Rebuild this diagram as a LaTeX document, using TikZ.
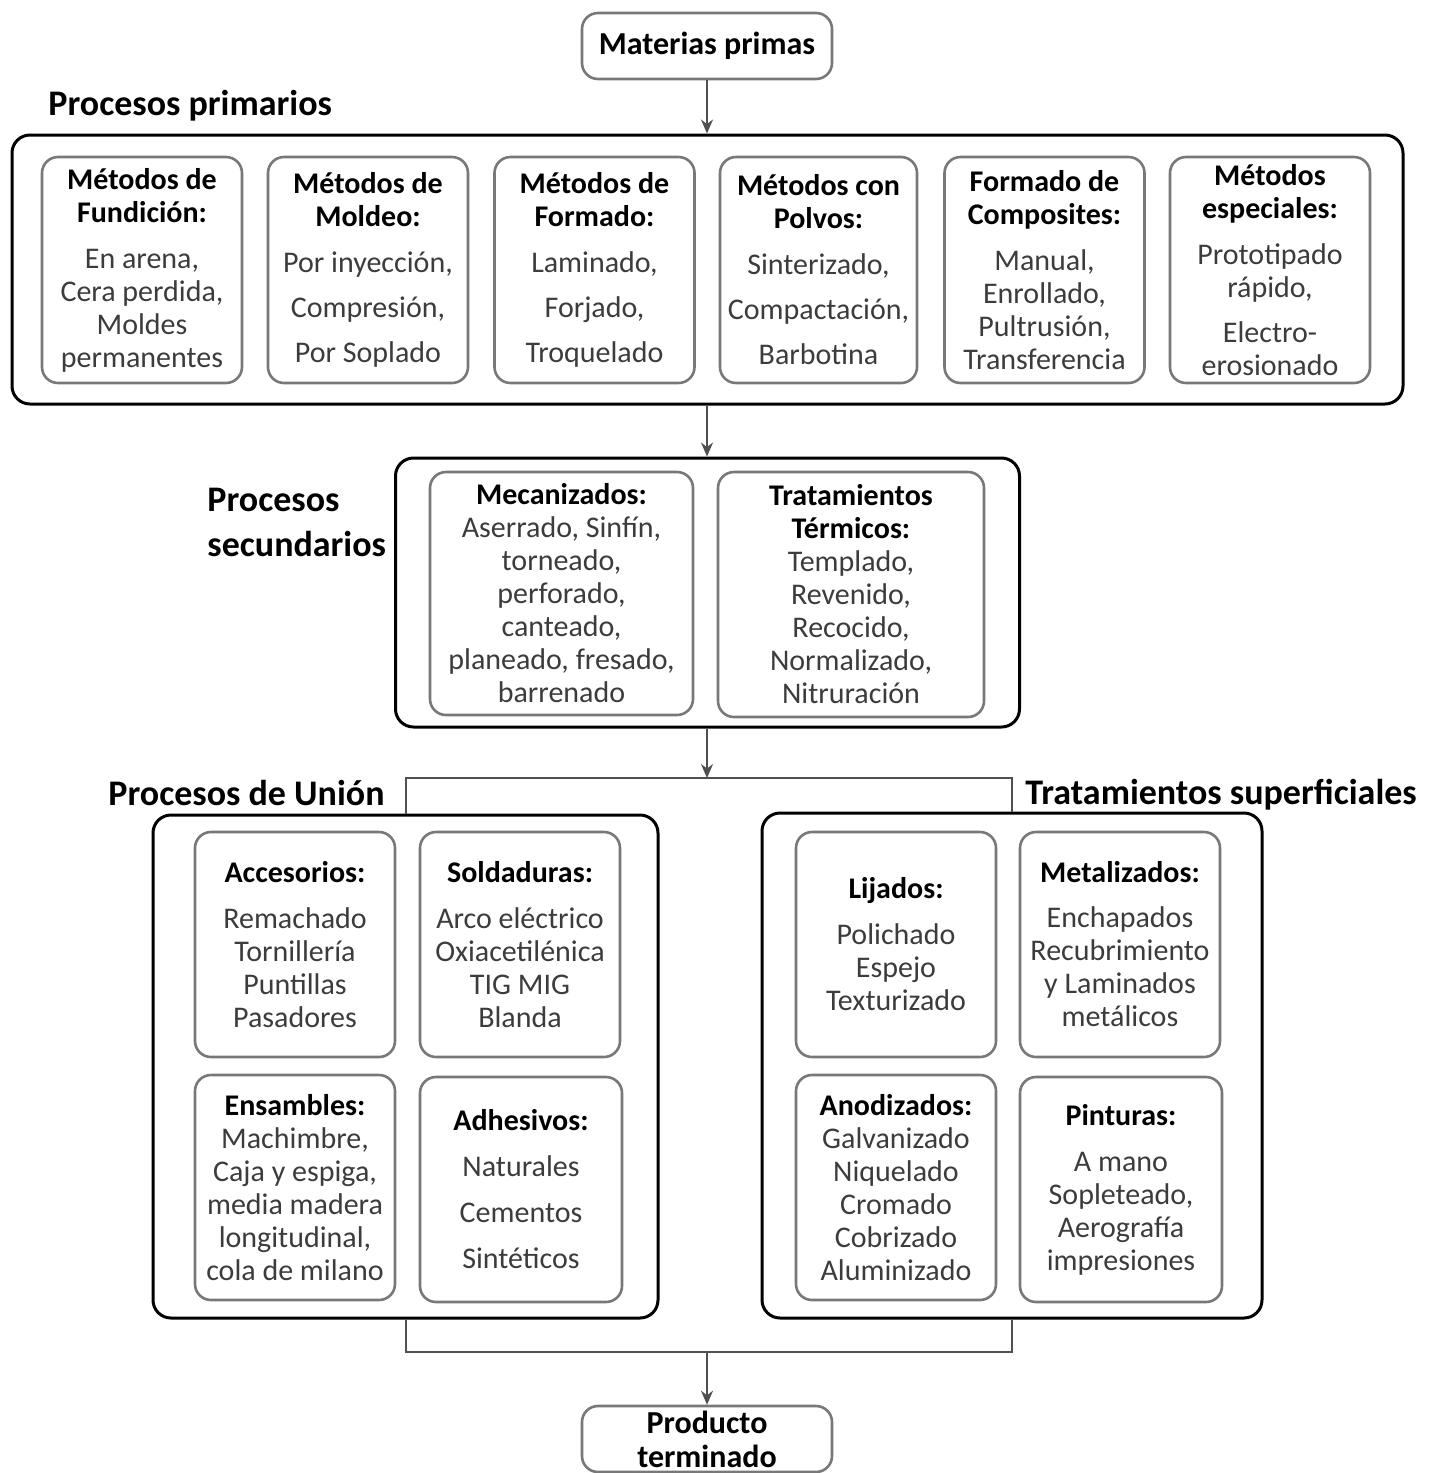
\documentclass[tikz,border=0pt]{standalone}
\usepackage{fontspec}
\setmainfont{Carlito}
\usetikzlibrary{arrows.meta}

\definecolor{borde}{RGB}{120,120,120}
\definecolor{texto}{RGB}{60,60,60}
\definecolor{linea}{RGB}{80,80,80}

\newcommand{\cab}[1]{{\bfseries\color{black}#1}}

\tikzset{
  bigbox/.style={draw=black, line width=1.5pt, rounded corners=9pt, minimum height=134.5pt},
  subbox/.style={draw=borde, line width=1.3pt, rounded corners=8pt, align=center, inner sep=0pt,
    text=texto, font=\fontsize{15}{16.5}\selectfont, minimum width=100pt, minimum height=112.5pt},
  extbox/.style={draw=borde, line width=1.3pt, rounded corners=8pt, align=center, inner sep=0pt,
    font=\bfseries\fontsize{16}{17.5}\selectfont, minimum width=125pt, minimum height=33pt},
  titulo/.style={font=\bfseries\fontsize{18}{22.5}\selectfont, inner sep=0pt, anchor=west, align=left},
  flecha/.style={draw=linea, line width=1pt, -{Stealth[length=7pt,width=6pt]}},
  union/.style={draw=linea, line width=1pt}
}

\begin{document}
\begin{tikzpicture}[x=0.5pt,y=-0.5pt]
\useasboundingbox[fill=white] (0,0) rectangle (1442,1473);

\node[extbox] (mat) at (707,46) {Materias primas};

% procesos primarios
\node[titulo] (tprim) at (48,106) {Procesos primarios};
\node[bigbox, minimum width=695.5pt] (prim) at (707.5,269.5) {};
\node[subbox, minimum height=113pt] (fun) at (142,270) {\cab{Métodos de}\\\cab{Fundición:}\\[6.5pt]
  En arena,\\Cera perdida,\\Moldes\\permanentes};
\node[subbox, minimum height=113pt] (mol) at (368,270) {\cab{Métodos de}\\\cab{Moldeo:}\\[6.5pt]
  Por inyección,\\[6pt]Compresión,\\[6pt]Por Soplado};
\node[subbox, minimum height=113pt] (for) at (594.5,270) {\cab{Métodos de}\\\cab{Formado:}\\[6.5pt]
  Laminado,\\[6pt]Forjado,\\[6pt]Troquelado};
\node[subbox, minimum height=113pt, minimum width=98.5pt] (pol) at (818.5,270) {\cab{Métodos con}\\\cab{Polvos:}\\[6.5pt]
  Sinterizado,\\[6pt]Compactación,\\[6pt]Barbotina};
\node[subbox, minimum height=113pt] (com) at (1044.5,270) {\cab{Formado de}\\\cab{Composites:}\\[6.5pt]
  Manual,\\Enrollado,\\Pultrusión,\\Transferencia};
\node[subbox, minimum height=113pt] (esp) at (1270,270) {\cab{Métodos}\\\cab{especiales:}\\[6.5pt]
  Prototipado\\rápido,\\[6pt]Electro-\\erosionado};

% procesos secundarios
\node[titulo] (tsec) at (207,522) {Procesos\\secundarios};
\node[bigbox, minimum width=312pt] (sec) at (707.5,592.5) {};
\node[subbox, minimum width=131.5pt, minimum height=121.5pt] (mec) at (561.5,593.5) {\cab{Mecanizados:}\\
  Aserrado, Sinfín,\\torneado,\\perforado,\\canteado,\\planeado, fresado,\\barrenado};
\node[subbox, minimum width=133pt, minimum height=122.5pt] (ter) at (851,594.5) {\cab{Tratamientos}\\\cab{Térmicos:}\\
  Templado,\\Revenido,\\Recocido,\\Normalizado,\\Nitruración};

% union y superficiales
\node[titulo] (tuni) at (108,793) {Procesos de Unión};
\node[titulo] (tsup) at (1025,795) {Tratamientos superficiales};
\node[bigbox, minimum width=252.5pt, minimum height=251.5pt] (uni) at (405.5,1066.5) {};
\node[bigbox, minimum width=250pt, minimum height=252.5pt] (sup) at (1012,1065.5) {};

\node[subbox] (acc) at (295,944.5) {\cab{Accesorios:}\\[6.5pt]
  Remachado\\Tornillería\\Puntillas\\Pasadores};
\node[subbox] (sol) at (520,944.5) {\cab{Soldaduras:}\\[6.5pt]
  Arco eléctrico\\Oxiacetilénica\\TIG MIG\\Blanda};
\node[subbox] (ens) at (295,1187.5) {\cab{Ensambles:}\\
  Machimbre,\\Caja y espiga,\\media madera\\longitudinal,\\cola de milano};
\node[subbox, minimum width=101pt] (adh) at (521,1189.5) {\cab{Adhesivos:}\\[6.5pt]
  Naturales\\[6.5pt]Cementos\\[6.5pt]Sintéticos};

\node[subbox] (lij) at (896,944.5) {\cab{Lijados:}\\[6.5pt]
  Polichado\\Espejo\\Texturizado};
\node[subbox] (met) at (1120,944.5) {\cab{Metalizados:}\\[6pt]
  Enchapados\\Recubrimiento\\y Laminados\\metálicos};
\node[subbox] (ano) at (896,1187.5) {\cab{Anodizados:}\\
  Galvanizado\\Niquelado\\Cromado\\Cobrizado\\Aluminizado};
\node[subbox, minimum width=101pt] (pin) at (1121,1189.5) {\cab{Pinturas:}\\[6.5pt]
  A mano\\Sopleteado,\\Aerografía\\impresiones};

\node[extbox, font=\bfseries\fontsize{16}{17}\selectfont] (prod) at (707,1439) {Producto\\terminado};

\coordinate (jsup) at (707,778);
\coordinate (jinf) at (707,1352);

\draw[flecha] (mat.south) -- (mat.south |- prim.north);
\draw[flecha] (prim.south -| mat.south) -- (mat.south |- sec.north);
\draw[flecha] (sec.south -| jsup) -- (jsup);
\draw[union] (uni.north) |- (jsup) -| (sup.north);
\draw[union] (uni.south) |- (jinf) -| (sup.south);
\draw[flecha] (jinf) -- (prod.north);
\end{tikzpicture}
\end{document}
